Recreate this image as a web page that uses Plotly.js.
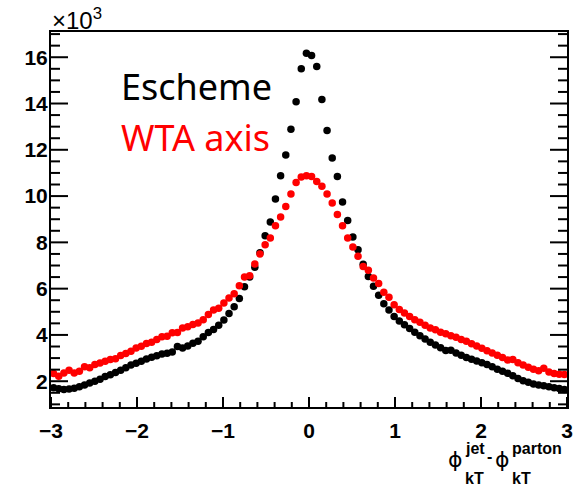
<!DOCTYPE html>
<html>
<head>
<meta charset="utf-8">
<script src="https://cdn.plot.ly/plotly-3.0.1.min.js"></script>
<style>
  html, body { margin: 0; padding: 0; background: #ffffff; }
  #chart { width: 577px; height: 487px; }
</style>
</head>
<body>
<div id="chart"></div>
<script>
// Histogram binning of the phi difference: 100 bins over [-3, 3]
const binLow = -3;
const binWidth = 0.06;

// Entries per bin, in units of 10^3
const escheme = [
  1.72, 1.67, 1.64, 1.66, 1.70, 1.76, 1.84, 1.92, 2.00, 2.08,
  2.20, 2.28, 2.38, 2.47, 2.58, 2.70, 2.78, 2.86, 2.96, 3.04,
  3.10, 3.18, 3.21, 3.26, 3.50, 3.44, 3.52, 3.64, 3.73, 3.92,
  4.10, 4.23, 4.42, 4.64, 4.93, 5.22, 5.57, 6.08, 6.50, 6.92,
  7.55, 8.29, 8.88, 9.87, 10.88, 11.78, 12.89, 14.08, 15.50, 16.17,
  16.07, 15.60, 14.17, 12.83, 11.65, 10.85, 9.74, 8.95, 8.23, 7.68,
  7.05, 6.53, 6.10, 5.72, 5.35, 5.08, 4.80, 4.60, 4.44, 4.28,
  4.12, 3.96, 3.82, 3.68, 3.56, 3.45, 3.33, 3.34, 3.22, 3.12,
  3.02, 2.95, 2.87, 2.80, 2.72, 2.62, 2.52, 2.43, 2.34, 2.24,
  2.12, 2.02, 1.96, 1.88, 1.84, 1.80, 1.76, 1.72, 1.68, 1.64
];

const wtaAxis = [
  2.33, 2.22, 2.36, 2.47, 2.36, 2.43, 2.62, 2.58, 2.72, 2.79,
  2.86, 2.94, 2.97, 3.11, 3.20, 3.29, 3.44, 3.51, 3.63, 3.68,
  3.80, 3.92, 3.94, 4.09, 4.11, 4.30, 4.35, 4.45, 4.52, 4.66,
  4.88, 5.08, 5.15, 5.38, 5.60, 5.78, 6.12, 6.50, 6.56, 7.07,
  7.50, 7.90, 8.19, 8.72, 9.10, 9.55, 10.09, 10.59, 10.82, 10.88,
  10.85, 10.63, 10.42, 10.09, 9.70, 9.20, 8.72, 8.19, 7.80, 7.40,
  6.96, 6.79, 6.46, 6.22, 5.84, 5.63, 5.30, 5.10, 4.95, 4.80,
  4.66, 4.55, 4.42, 4.30, 4.22, 4.12, 4.05, 3.96, 3.90, 3.80,
  3.73, 3.62, 3.52, 3.42, 3.32, 3.22, 3.12, 3.02, 2.92, 2.94,
  2.80, 2.70, 2.60, 2.52, 2.45, 2.56, 2.40, 2.33, 2.30, 2.29
];

const seriesNames = ['Escheme', 'WTA axis'];
const seriesColors = ['#000000', '#ff0000'];

const xRange = [-3, 3];
const yRange = [0.886, 17.09];
const xTickVals = [-3, -2, -1, 0, 1, 2, 3];
const xTickText = ['−3', '−2', '−1', '0', '1', '2', '3'];
const yTickVals = [2, 4, 6, 8, 10, 12, 14, 16];
const yTickText = ['2', '4', '6', '8', '10', '12', '14', '16'];
const xMinorStep = 0.2;
const yMinorStep = 0.5;

function markerTrace(values, name, color) {
  return {
    type: 'scatter',
    mode: 'markers',
    name: name,
    x0: binLow + binWidth / 2,
    dx: binWidth,
    y: values,
    marker: { color: color, size: 7.5, line: { width: 0 } },
    hoverinfo: 'skip'
  };
}

const data = [
  markerTrace(escheme, seriesNames[0], seriesColors[0]),
  markerTrace(wtaAxis, seriesNames[1], seriesColors[1])
];

const tickFont = { family: 'Liberation Sans, Arial, sans-serif', size: 21, color: '#000000' };
const subFont = { family: 'Liberation Sans, Arial, sans-serif', size: 16, color: '#000000', weight: 'bold' };
const phiFont = { family: 'DejaVu Sans, sans-serif', size: 22, color: '#000000' };
const bold = (t) => '<b>' + t + '</b>';

// plot-area geometry helpers for placing text in pixels
const W = 577, H = 487;
const M = { l: 51, r: 10, t: 32, b: 80 };
const px = (x) => (x - M.l) / (W - M.l - M.r);
const py = (y) => (H - M.b - y) / (H - M.t - M.b);

function txt(x, y, text, font, xanchor) {
  return {
    xref: 'paper', yref: 'paper', x: px(x), y: py(y),
    xanchor: xanchor || 'left', yanchor: 'middle',
    text: text, showarrow: false, font: font, borderpad: 0
  };
}

const annotations = [
  // axis multiplier
  {
    xref: 'paper', yref: 'paper', x: 0, y: 1, xanchor: 'left', yanchor: 'bottom',
    text: '×10<sup>3</sup>', showarrow: false, borderpad: 0, yshift: -3,
    font: { family: 'Liberation Sans, Arial, sans-serif', size: 24, color: '#000000' }
  },
  // series labels
  txt(120, 87, seriesNames[0], { family: 'Noto Sans, sans-serif', size: 36, color: seriesColors[0] }),
  txt(120, 137, seriesNames[1], { family: 'Noto Sans, sans-serif', size: 36, color: seriesColors[1] }),
  // x-axis title: phi^jet_kT - phi^parton_kT
  txt(447, 459, 'ϕ', phiFont),
  txt(464, 448, 'jet', subFont),
  txt(464, 478, 'kT', subFont),
  txt(486, 456, '-', subFont),
  txt(494, 459, 'ϕ', phiFont),
  txt(511, 448, 'parton', subFont),
  txt(511, 478, 'kT', subFont)
];

// Frame tick marks pointing into the plot area (bottom, left and right edges)
const tickLine = { color: '#000000', width: 2 };
function xTick(v, len) {
  return { type: 'line', xref: 'x', yref: 'paper', ysizemode: 'pixel', yanchor: 0,
           x0: v, x1: v, y0: 0, y1: len, line: tickLine, layer: 'above' };
}
function yTick(v, len, edge) {
  return { type: 'line', xref: 'paper', yref: 'y', xsizemode: 'pixel', xanchor: edge,
           x0: 0, x1: edge === 0 ? len : -len, y0: v, y1: v, line: tickLine, layer: 'above' };
}

const shapes = [];
for (let k = 0; xRange[0] + k * xMinorStep <= xRange[1] + 1e-9; k++) {
  const v = +(xRange[0] + k * xMinorStep).toFixed(6);
  const major = xTickVals.some(t => Math.abs(t - v) < 1e-6);
  shapes.push(xTick(v, major ? 10 : 5));
}
for (let k = Math.ceil(yRange[0] / yMinorStep); k * yMinorStep <= yRange[1]; k++) {
  const v = k * yMinorStep;
  const major = yTickVals.includes(v);
  shapes.push(yTick(v, major ? 17 : 9, 0));
  shapes.push(yTick(v, major ? 17 : 9, 1));
}

const layout = {
  width: W,
  height: H,
  margin: M,
  paper_bgcolor: '#ffffff',
  plot_bgcolor: 'rgba(0,0,0,0)',
  showlegend: false,
  xaxis: {
    range: xRange,
    tickmode: 'array',
    tickvals: xTickVals,
    ticktext: xTickText.map(bold),
    ticks: '',
    showline: true,
    linecolor: '#000000',
    linewidth: 2,
    mirror: true,
    showgrid: false,
    zeroline: false,
    tickfont: tickFont,
    ticklabelstandoff: 4
  },
  yaxis: {
    range: yRange,
    tickmode: 'array',
    tickvals: yTickVals,
    ticktext: yTickText.map(bold),
    ticks: '',
    showline: true,
    linecolor: '#000000',
    linewidth: 2,
    mirror: true,
    showgrid: false,
    zeroline: false,
    tickfont: tickFont,
    ticklabelstandoff: -3
  },
  shapes: shapes,
  annotations: annotations
};

Plotly.newPlot('chart', data, layout, { displayModeBar: false, staticPlot: true });
</script>
</body>
</html>
